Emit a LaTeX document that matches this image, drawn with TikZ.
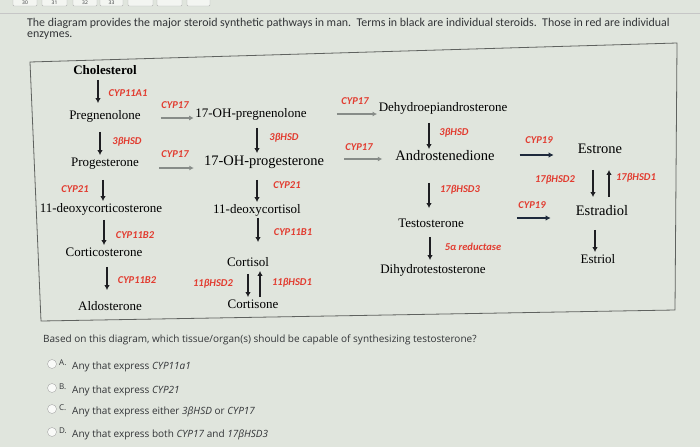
\documentclass[tikz,border=0pt]{standalone}
\usepackage{fontspec}
\setmainfont{Liberation Serif}
\newfontfamily\enzfont{Carlito}
\newfontfamily\qfont{Open Sans}
\usetikzlibrary{arrows.meta}
\definecolor{bgCol}{RGB}{224,229,221}
\definecolor{enzCol}{RGB}{226,60,48}
\definecolor{arrCol}{RGB}{30,30,34}
\definecolor{cypCol}{RGB}{135,140,136}
\definecolor{aroCol}{RGB}{30,42,60}
\definecolor{qCol}{RGB}{50,52,55}
\definecolor{boxCol}{RGB}{95,98,95}
\tikzset{
  ster/.style={inner sep=1.5pt, text height=9.5pt, text depth=3pt,
               font=\fontsize{13}{15}\selectfont},
  sterbig/.style={ster, font=\fontsize{14.5}{16}\selectfont},
  sterhead/.style={ster, font=\bfseries\fontsize{13}{15}\selectfont},
  enz/.style={inner sep=0pt, text=enzCol,
              font=\enzfont\fontsize{10.5}{12}\selectfont\bfseries\itshape},
  conv/.style={-{Latex[length=5pt,width=5.5pt]}, line width=2.4pt, arrCol},
  cyp/.style={-{Latex[length=4.5pt,width=5pt]}, line width=2.2pt, cypCol},
  arom/.style={-{Latex[length=5pt,width=5.5pt]}, line width=2.4pt, aroCol},
  qtext/.style={anchor=west, inner sep=0pt, text=qCol,
                font=\qfont\fontsize{10}{12}\selectfont},
  radio/.style={circle, draw=gray!70, fill=white!80!bgCol, minimum size=9pt, inner sep=0pt},
  pagetab/.style={draw=gray!60, fill=white!60!bgCol, rounded corners=1pt},
}

\begin{document}
\begin{tikzpicture}[x=1pt, y=-1pt]
  \clip (0,0) rectangle (700,447);
  \fill[bgCol] (0,0) rectangle (700,447);
  % page tabs (cut off by the photo)
  \foreach \xa/\xb/\num in {13/37/30, 42/67/31, 73/97/32, 100/123/33, 128/153/{}, 157/182/{}, 187/210/{}}
    \draw[pagetab] (\xa,-8) rectangle (\xb,6)
      node[midway, yshift=-4pt, text=qCol, font=\qfont\fontsize{5}{6}\selectfont] {\num};
  \draw[gray!45] (0,13) -- (700,13);

  % heading
  \node[anchor=west, inner sep=0pt, text=qCol, font=\enzfont\fontsize{11.9}{13}\selectfont] (intro) at (27,23)
    {The diagram provides the major steroid synthetic pathways in man.\ \ Terms in black are individual steroids.\ \ Those in red are individual};
  \node[anchor=west, inner sep=0pt, text=qCol, font=\enzfont\fontsize{11.9}{13}\selectfont] (intro2) at (27,36) {enzymes.};

  % frame (photo is a bit tilted)
  \draw[boxCol, line width=0.8pt] (30,62) -- (677,43) -- (675,310) -- (41,321) -- cycle;

  % steroids
  \node[sterhead] (chol)    at (105,71)  {Cholesterol};
  \node[ster]     (preg)    at (105,116) {Pregnenolone};
  \node[ster]     (ohpreg)  at (251,114) {17-OH-pregnenolone};
  \node[ster]     (dhea)    at (443,108) {Dehydroepiandrosterone};
  \node[ster]     (prog)    at (105,163) {Progesterone};
  \node[sterbig]  (ohprog)  at (264,162) {17-OH-progesterone};
  \node[sterbig]  (andro)   at (445,157) {Androstenedione};
  \node[sterbig]  (estrone) at (600,150) {Estrone};
  \node[ster]     (doc)     at (101,209) {11-deoxycorticosterone};
  \node[ster]     (deoxyc)  at (257,210) {11-deoxycortisol};
  \node[ster]     (testo)   at (431,224) {Testosterone};
  \node[sterbig]  (estrad)  at (602,212) {Estradiol};
  \node[ster]     (cortico) at (104,253) {Corticosterone};
  \node[ster]     (cortisol) at (248,263) {Cortisol};
  \node[ster]     (dht)     at (433,270) {Dihydrotestosterone};
  \node[ster]     (estriol) at (598,260) {Estriol};
  \node[ster]     (aldo)    at (110,307) {Aldosterone};
  \node[ster]     (cortisone) at (253,305) {Cortisone};

  % enzymes
  \node[enz] (e11a1)  at (128,93)  {CYP11A1};
  \node[enz] (e17a)   at (175,105) {CYP17};
  \node[enz] (e17b)   at (175,154) {CYP17};
  \node[enz] (e17c)   at (355,101) {CYP17};
  \node[enz] (e17d)   at (359,147) {CYP17};
  \node[enz] (e3a)    at (127,142) {3βHSD};
  \node[enz] (e3b)    at (284,138) {3βHSD};
  \node[enz] (e3c)    at (454,133) {3βHSD};
  \node[enz] (e19a)   at (539,140) {CYP19};
  \node[enz] (e19b)   at (532,205) {CYP19};
  \node[enz] (e17h2)  at (555,180) {17βHSD2};
  \node[enz] (e17h1)  at (636,178) {17βHSD1};
  \node[enz] (e17h3)  at (460,190) {17βHSD3};
  \node[enz] (e5a)    at (473,247) {5α reductase};
  \node[enz] (e21a)   at (75,189)  {CYP21};
  \node[enz] (e21b)   at (287,185) {CYP21};
  \node[enz] (e11b2a) at (135,235) {CYP11B2};
  \node[enz] (e11b2b) at (137,280) {CYP11B2};
  \node[enz] (e11b1)  at (293,232) {CYP11B1};
  \node[enz] (e11h2)  at (213,284) {11βHSD2};
  \node[enz] (e11h1)  at (292,283) {11βHSD1};

  % vertical steps
  \draw[conv, shorten <=1pt, shorten >=5pt] ([xshift=-7pt]chol.south) -- ([xshift=-7pt]chol.south |- preg.north);
  \draw[conv, shorten <=8pt] ([xshift=-5pt]preg.south) -- ([xshift=-5pt]preg.south |- prog.north);
  \draw[conv, shorten <=9pt] ([xshift=-2pt]prog.south) -- ([xshift=-2pt]prog.south |- doc.north);
  \draw[conv, shorten <=3pt] ([xshift=3pt]doc.south) -- ([xshift=3pt]doc.south |- cortico.north);
  \draw[conv, shorten <=6pt, shorten >=9pt] ([xshift=3pt]cortico.south) -- ([xshift=3pt]cortico.south |- aldo.north);
  \draw[conv, shorten <=6pt, shorten >=1pt] ([xshift=6pt]ohpreg.south) -- ([xshift=6pt]ohpreg.south |- ohprog.north);
  \draw[conv, shorten <=10pt] ([xshift=-7pt]ohprog.south) -- ([xshift=-7pt]ohprog.south |- deoxyc.north);
  \draw[conv, shorten >=13pt] ([xshift=1pt]deoxyc.south) -- ([xshift=1pt]deoxyc.south |- cortisol.north);
  \draw[conv, shorten <=3pt] (cortisol.south) -- (cortisol.south |- cortisone.north);
  \draw[conv] ([xshift=7pt]cortisone.north) -- ([xshift=7pt]cortisone.north |- cortisol.south);
  \draw[conv, shorten <=7pt] ([xshift=-14pt]dhea.south) -- ([xshift=-14pt]dhea.south |- andro.north);
  \draw[conv, shorten <=18pt, shorten >=8pt] ([xshift=-16pt]andro.south) -- ([xshift=-16pt]andro.south |- testo.north);
  \draw[conv, shorten <=5pt, shorten >=2pt] ([xshift=-1pt]testo.south) -- ([xshift=-1pt]testo.south |- dht.north);
  \draw[conv, shorten <=12pt, shorten >=7pt] ([xshift=-7pt]estrone.south) -- ([xshift=-7pt]estrone.south |- estrad.north);
  \draw[conv, shorten <=7pt, shorten >=12pt] ([xshift=7pt]estrad.north) -- ([xshift=7pt]estrad.north |- estrone.south);
  \draw[conv, shorten <=10pt] ([xshift=-7pt]estrad.south) -- ([xshift=-7pt]estrad.south |- estriol.north);

  % CYP17 side steps
  \draw[cyp, shorten <=18.5pt] ([yshift=-2pt]preg.east) -- ([yshift=-2pt]preg.east -| ohpreg.west);
  \draw[cyp, shorten <=18.5pt, shorten >=8.5pt] ([yshift=-5pt]prog.east) -- ([yshift=-5pt]prog.east -| ohprog.west);
  \draw[cyp, shorten <=28.5pt] (ohpreg.east) -- (ohpreg.east -| dhea.west);
  \draw[cyp, shorten <=18.5pt, shorten >=11.5pt] ([yshift=3pt]ohprog.east) -- ([yshift=3pt]ohprog.east -| andro.west);
  % aromatase
  \draw[arom, shorten <=23.5pt, shorten >=22.5pt] ([yshift=2pt]andro.east) -- ([yshift=2pt]andro.east -| estrone.west);
  \draw[arom, shorten <=51.5pt, shorten >=23.5pt] ([yshift=6pt]testo.east) -- ([yshift=6pt]testo.east -| estrad.west);

  % question
  \node[qtext] (quest) at (43,340) {Based on this diagram, which tissue/organ(s) should be capable of synthesizing testosterone?};
  \foreach \yy/\lab/\txt in {364/A./{Any that express \textit{CYP11a1}},
                             388/B./{Any that express \textit{CYP21}},
                             409/C./{Any that express either \textit{3βHSD} or \textit{CYP17}},
                             432/D./{Any that express both \textit{CYP17} and \textit{17βHSD3}}} {
    \node[radio] (r\lab) at (52,\yy) {};
    \node[qtext, font=\qfont\fontsize{8}{9}\selectfont] (l\lab) at (59,\yy-1) {\lab};
    \node[qtext] (o\lab) at (72,\yy+3) {\txt};
  }
\end{tikzpicture}
\end{document}
